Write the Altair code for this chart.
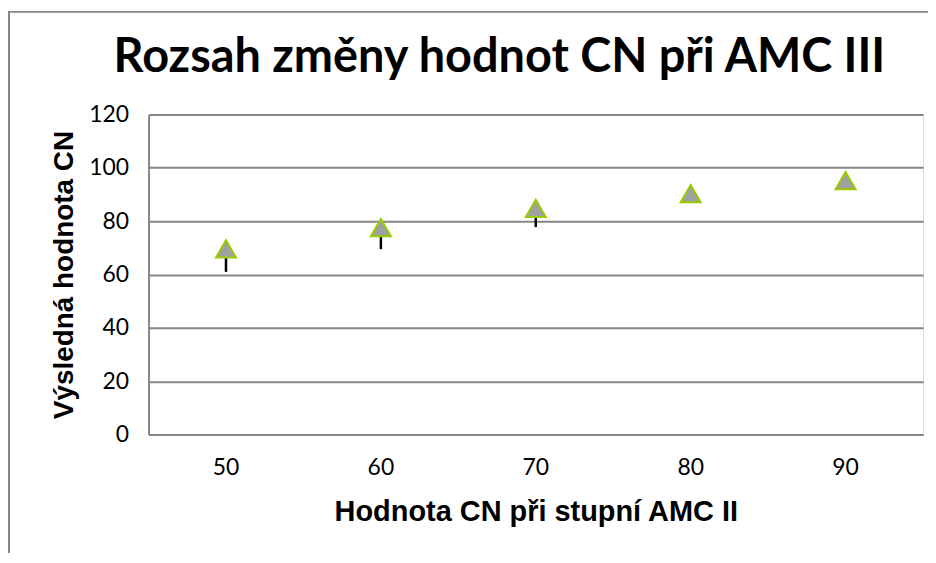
import altair as alt
import pandas as pd

cn_amc2 = ["50", "60", "70", "80", "90"]
cn_amc3 = [69.6, 77.6, 84.8, 90.3, 95.2]
cn_low = [61.0, 69.5, 77.8, 87.0, 93.5]
title_text = ["Rozsah změny hodnot CN při AMC III"]

df = pd.DataFrame({"x": cn_amc2, "y": cn_amc3, "low": cn_low})
tdf = pd.DataFrame({"t": title_text})

GRID = "#868686"

x_enc = alt.X(
    "x:N",
    sort=cn_amc2,
    scale=alt.Scale(paddingInner=0, paddingOuter=0),
    axis=alt.Axis(
        title="Hodnota CN při stupní AMC II",
        labelAngle=0,
        labelFont="Lato",
        labelFontSize=23,
        labelColor="#000000",
        labelPadding=22,
        ticks=False,
        domainColor=GRID,
        domainWidth=2,
        titleFont="Liberation Sans",
        titleFontSize=29,
        titleFontWeight="bold",
        titleColor="#000000",
        titlePadding=18,
        grid=False,
    ),
)

y_scale = alt.Scale(domain=[0, 120], nice=False, zero=True)

frame = alt.Chart(tdf).mark_rect(
    fill=None, stroke=GRID, strokeWidth=2, clip=False
).encode(
    x=alt.value(-140), x2=alt.value(1100), y=alt.value(-103), y2=alt.value(700)
)

title = alt.Chart(tdf).mark_text(
    font="Lato",
    fontSize=47,
    fontWeight="bold",
    color="#000000",
    align="center",
    baseline="alphabetic",
    clip=False,
).encode(x=alt.value(352), y=alt.value(-43), text="t:N")

bars = alt.Chart(df).mark_rule(color="#000000", strokeWidth=2.5).encode(
    x=x_enc,
    y=alt.Y(
        "low:Q",
        scale=y_scale,
        axis=alt.Axis(
            title="Výsledná hodnota CN",
            values=[0, 20, 40, 60, 80, 100, 120],
            labelFont="Lato",
            labelFontSize=23,
            labelColor="#000000",
            labelPadding=20,
            ticks=False,
            domainColor=GRID,
            domainWidth=2,
            gridColor=GRID,
            gridWidth=2,
            titleFont="Liberation Sans",
            titleFontSize=28,
            titleFontWeight="bold",
            titleColor="#000000",
            titlePadding=10,
        ),
    ),
    y2="y:Q",
)

points = alt.Chart(df).mark_point(
    shape="triangle-up",
    filled=True,
    fill="#A0A0A0",
    stroke="#99CC00",
    strokeWidth=2,
    size=400,
    opacity=1,
).encode(x=x_enc, y=alt.Y("y:Q", scale=y_scale))

chart = (
    alt.layer(frame, title, bars, points)
    .properties(
        width=777,
        height=321,
        autosize=alt.AutoSizeParams(type="none"),
        padding={"left": 141, "top": 106, "right": 5, "bottom": 118},
    )
    .configure_view(stroke=None)
    .configure(background="#ffffff")
)

chart.save("out.html", embed_options={"renderer": "svg", "actions": False})
